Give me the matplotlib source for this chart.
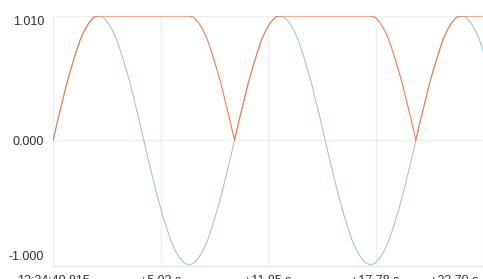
import matplotlib
matplotlib.use("Agg")
import matplotlib.pyplot as plt
import matplotlib.transforms as mtransforms

# samples every 0.25 s
step = 0.25

rise = [0.00, 0.16, 0.31, 0.46, 0.59, 0.71, 0.82, 0.90, 0.96, 1.00, 1.01]
fall = [1.00, 0.96, 0.90, 0.82, 0.71, 0.59, 0.46, 0.31, 0.16, 0.00]
neg_down = [-0.16, -0.31, -0.46, -0.59, -0.71, -0.82, -0.90, -0.96, -1.00, -1.015]
neg_up = [-1.00, -0.96, -0.90, -0.82, -0.71, -0.59, -0.46, -0.31, -0.16, 0.00]

wave = rise + fall + neg_down + neg_up          # 0 .. 10 s
wave2 = rise[1:] + fall + neg_down + neg_up     # 10 .. 20 s
tail = rise[1:] + [1.00, 0.96, 0.90, 0.82, 0.71]  # 20 .. 23.75 s
blue_vals = wave + wave2 + tail

hold = [1.01] * 20
back = [1.00, 0.96, 0.90, 0.82, 0.71, 0.59, 0.46, 0.31, 0.16, 0.00]
orange_vals = rise + hold + back + rise[1:] + hold + back + rise[1:] + [1.01] * 5

times = [i * step for i in range(len(blue_vals))]

xtick_pos = [0, 5.925, 11.85, 17.775, 23.70]
xtick_labels = ["12:34:40.815", "+5.93 s", "+11.85 s", "+17.78 s", "+23.70 s"]
ytick_pos = [-1.0, 0.0, 1.01]
ytick_labels = ["-1.000", "0.000", "1.010"]

plt.rcParams["font.family"] = ["Liberation Sans", "DejaVu Sans"]
plt.rcParams["font.size"] = 9

fig = plt.figure(figsize=(4.83, 2.79), dpi=100)
ax = fig.add_axes([0.110, 0.0477, 0.890, 0.8967])

ax.plot(times, blue_vals, color="#9fc9d1", lw=0.8)
ax.plot(times, orange_vals, color="#f07f55", lw=0.8)

ax.set_xlim(0, 23.70)
ax.set_ylim(-1.02, 1.014)

ax.set_xticks(xtick_pos)
ax.set_xticklabels(xtick_labels)
ax.set_yticks(ytick_pos)
ax.set_yticklabels(ytick_labels)

ax.tick_params(length=0, colors="#333333", labelsize=9)
ax.tick_params(axis="y", pad=6.5)
ax.tick_params(axis="x", pad=7)

ax.grid(True, color="#eeeeee", lw=1)
ax.set_axisbelow(True)
ax.yaxis.get_gridlines()[0].set_visible(False)

for s in ["top", "right", "left"]:
    ax.spines[s].set_visible(False)
ax.spines["bottom"].set_color("#e6e6e6")
ax.spines["bottom"].set_linewidth(1)

ylabs = ax.get_yticklabels()
ylabs[0].set_verticalalignment("bottom")
ylabs[2].set_verticalalignment("top")

xlabs = ax.get_xticklabels()
xlabs[-1].set_horizontalalignment("right")
xlabs[-1].set_transform(xlabs[-1].get_transform() +
                        mtransforms.ScaledTranslation(-5 / 100, 0, fig.dpi_scale_trans))

fig.savefig("out.png", dpi=100)
